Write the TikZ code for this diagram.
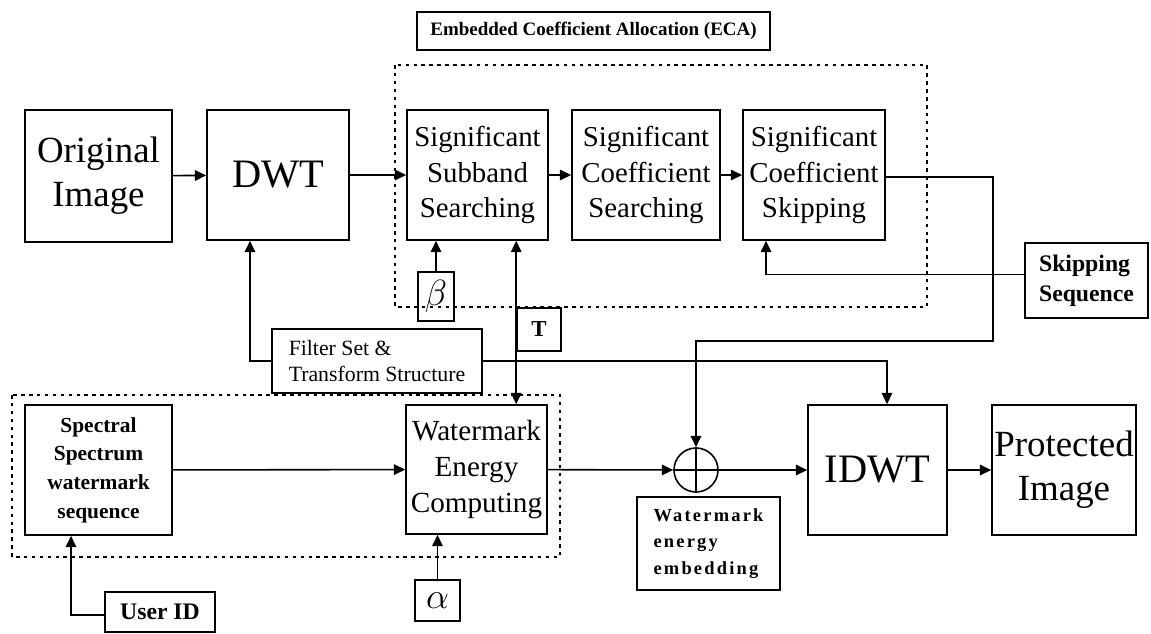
\documentclass[tikz,border=0pt]{standalone}
\usepackage{fontspec}
\setmainfont{Liberation Serif}
\newfontfamily\wideface[LetterSpace=12]{Liberation Serif}
\usetikzlibrary{arrows.meta,calc}

\begin{document}
\begin{tikzpicture}[x=0.02cm,y=-0.02cm,line width=0.9pt]
        \tikzstyle{every node}+=[inner sep=0pt]
        \tikzstyle{blk}=[draw,align=center]
        \tikzstyle{grp}=[dash pattern=on 2pt off 2.5pt,line width=1.1pt]
        \tikzstyle{flow}=[-{Triangle[length=6.5pt,width=6pt]}]
        \tikzstyle{both}=[{Triangle[length=6.5pt,width=6pt]}-{Triangle[length=6.5pt,width=6pt]}]
        \useasboundingbox (0,0) rectangle (1151,633);
        % dotted groups
        \draw [grp] (395,65) rectangle (927,307);
        \draw [grp] (12,395) rectangle (560,557);
        \node [blk,minimum width=353*0.02cm,minimum height=38*0.02cm,font=\bfseries\fontsize{10.8}{13}\selectfont] (eca) at (593.5,31) {Embedded Coefficient Allocation (ECA)};
        % upper row
        \node [blk,minimum width=147*0.02cm,minimum height=132*0.02cm,font=\fontsize{21}{25}\selectfont] (orig) at (98.5,176) {Original\\Image};
        \node [blk,minimum width=142*0.02cm,minimum height=130*0.02cm,font=\fontsize{23}{27}\selectfont] (dwt) at (278,175) {DWT};
        \node [blk,minimum width=141*0.02cm,minimum height=130*0.02cm,font=\fontsize{16.4}{20.4}\selectfont] (sss) at (477.5,175) {Significant\\Subband\\Searching};
        \node [blk,minimum width=148*0.02cm,minimum height=130*0.02cm,font=\fontsize{16.4}{20.4}\selectfont] (scs) at (646,175) {Significant\\Coefficient\\Searching};
        \node [blk,minimum width=142*0.02cm,minimum height=130*0.02cm,font=\fontsize{16.4}{20.4}\selectfont] (scsk) at (814,175) {Significant\\Coefficient\\Skipping};
        \node [blk,minimum width=123*0.02cm,minimum height=75*0.02cm,font=\bfseries\fontsize{13.5}{17}\selectfont,align=left] (skip) at (1086.5,280.5) {Skipping\\Sequence};
        \node [blk,minimum width=36*0.02cm,minimum height=49*0.02cm,font=\fontsize{20}{24}\selectfont] (beta) at (436,296.5) {$\beta$};
        \node [blk,minimum width=44*0.02cm,minimum height=43*0.02cm,font=\bfseries\fontsize{13}{15}\selectfont] (tbox) at (539,329.5) {T};
        \node [blk,minimum width=210*0.02cm,minimum height=64*0.02cm,font=\fontsize{12.4}{15}\selectfont,align=left] (filt) at (377,361) {Filter Set \&\\Transform Structure};
        % lower row
        \node [blk,minimum width=147*0.02cm,minimum height=130*0.02cm,font=\bfseries\fontsize{12.2}{16.3}\selectfont] (spec) at (98.5,470) {Spectral\\Spectrum\\watermark\\sequence};
        \node [blk,minimum width=141*0.02cm,minimum height=129*0.02cm,font=\fontsize{16.6}{20.4}\selectfont] (wec) at (476.5,469.5) {Watermark\\Energy\\Computing};
        \node [blk,minimum width=45*0.02cm,minimum height=41*0.02cm,font=\fontsize{20}{24}\selectfont] (alpha) at (437.5,600.5) {$\alpha$};
        \node [blk,minimum width=110*0.02cm,minimum height=40*0.02cm,font=\bfseries\fontsize{13.5}{16}\selectfont] (user) at (160,612) {User ID};
        \node [draw,circle,minimum size=44*0.02cm] (sum) at (696,470) {};
        \draw (sum.north) -- (sum.south) (sum.west) -- (sum.east);
        \node [blk,minimum width=143*0.02cm,minimum height=93*0.02cm,font=\wideface\bfseries\fontsize{10.5}{15}\selectfont,align=left] (wee) at (708.5,543.5) {Watermark\\energy\\embedding};
        \node [blk,minimum width=139*0.02cm,minimum height=130*0.02cm,font=\fontsize{23}{27}\selectfont] (idwt) at (877.5,470) {IDWT};
        \node [blk,minimum width=144*0.02cm,minimum height=130*0.02cm,font=\fontsize{21}{25}\selectfont] (prot) at (1064,470) {Protected\\Image};
        % connectors
        \coordinate (turn) at (993,341);
        \draw [flow] (orig) -- (dwt);
        \draw [flow] (dwt) -- (sss);
        \draw [flow] (sss) -- (scs);
        \draw [flow] (scs) -- (scsk);
        \draw [flow] ([yshift=-0.04cm]scsk.east) -| (turn) -| (sum.north);
        \draw [flow] ([yshift=0.12cm]skip.west) -| ([xshift=-0.96cm]scsk.south);
        \draw [flow] (beta) -- (beta.north |- sss.south);
        \draw [both] (tbox.west |- sss.south) -- (tbox.west |- wec.north);
        \draw [flow] (filt.west) -| ([xshift=-0.56cm]dwt.south);
        \draw [flow] (filt.east) -| ([xshift=0.19cm]idwt.north);
        \draw [flow] (spec) -- (wec);
        \draw [flow] ([yshift=-0.06cm]user.west) -| ([xshift=-0.55cm]spec.south);
        \draw [flow] (alpha) -- (alpha.north |- wec.south);
        \draw [flow] (wec) -- (sum);
        \draw [flow] (sum) -- (idwt);
        \draw [flow] (idwt) -- (prot);
      \end{tikzpicture}
\end{document}
